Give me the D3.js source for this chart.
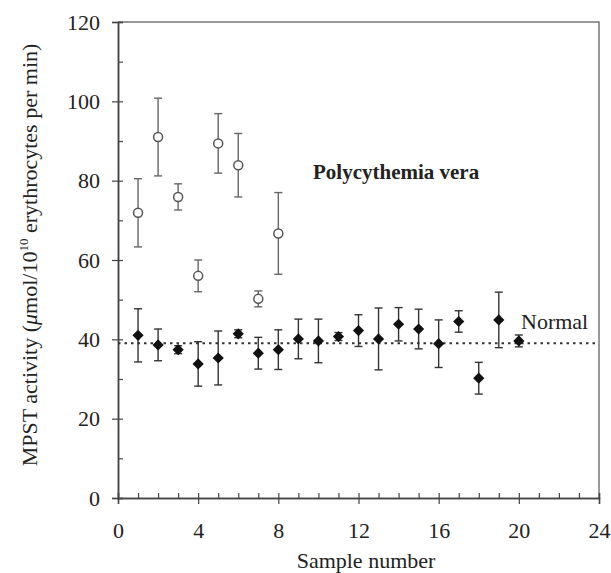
<!DOCTYPE html>
<html>
<head>
<meta charset="utf-8">
<script src="https://cdn.jsdelivr.net/npm/d3@7"></script>
<style>
  body { margin: 0; background: #fff; }
  text { font-family: "Liberation Serif", "Times New Roman", serif; fill: #222; }
</style>
</head>
<body>
<script>
// Normal samples (filled diamonds), mean and error
var normalSample = [1, 2, 3, 4, 5, 6, 7, 8, 9, 10, 11, 12, 13, 14, 15, 16, 17, 18, 19, 20];
var normalMean = [41, 38.6, 37.4, 33.8, 35.3, 41.4, 36.5, 37.4, 40.1, 39.6, 40.7, 42.2, 40.1, 43.8, 42.6, 38.9, 44.5, 30.2, 44.9, 39.6];
var normalErr = [6.7, 4, 1, 5.6, 6.8, 1, 4, 5, 5, 5.5, 1, 4, 7.8, 4.2, 5, 6, 2.7, 4, 7, 1.5];

// Polycythemia vera samples (open circles)
var pvSample = [1, 2, 3, 4, 5, 6, 7, 8];
var pvMean = [71.9, 91, 75.9, 56, 89.4, 83.9, 50.2, 66.7];
var pvErr = [8.6, 9.8, 3.3, 4, 7.5, 8, 2, 10.3];

// reference line for the normal mean
var normalLine = 39;

var xTicks = [0, 4, 8, 12, 16, 20, 24];
var yTicks = [0, 20, 40, 60, 80, 100, 120];

var W = 611, H = 573;
var margin = {left: 118, right: 599, top: 22, bottom: 498};

var svg = d3.select("body").append("svg")
    .attr("width", W)
    .attr("height", H);

var x = d3.scaleLinear().domain([0, 24]).range([margin.left, margin.right]);
var y = d3.scaleLinear().domain([0, 120]).range([margin.bottom, margin.top]);

// frame (top and right edges)
svg.append("path")
    .attr("d", "M" + x(0) + "," + y(120) + "H" + x(24) + "V" + y(0))
    .attr("fill", "none")
    .attr("stroke", "#777")
    .attr("stroke-width", 1.5);

// x axis: major ticks below, minor ticks above
svg.append("g")
    .attr("transform", "translate(0," + margin.bottom + ")")
    .call(d3.axisBottom(x).tickValues(xTicks).tickSize(6).tickPadding(18).tickFormat(d3.format("d")));
svg.append("g")
    .attr("transform", "translate(0," + margin.bottom + ")")
    .call(d3.axisTop(x).tickValues(d3.range(0, 25, 1)).tickSize(5).tickFormat(""));

// y axis: major ticks left, minor ticks right
svg.append("g")
    .attr("transform", "translate(" + margin.left + ",0)")
    .call(d3.axisLeft(y).tickValues(yTicks).tickSize(6).tickPadding(12).tickFormat(d3.format("d")));
svg.append("g")
    .attr("transform", "translate(" + margin.left + ",0)")
    .call(d3.axisRight(y).tickValues(d3.range(0, 121, 10)).tickSize(5).tickFormat(""));

svg.selectAll(".domain").attr("stroke", "#444").attr("stroke-width", 1.5);
svg.selectAll(".tick line").attr("stroke", "#444").attr("stroke-width", 1.2);
svg.selectAll(".tick text")
    .style("font-family", "'Liberation Serif', serif")
    .style("font-size", "22px")
    .attr("fill", "#222");

// dotted normal line
svg.append("line")
    .attr("x1", x(0)).attr("x2", x(24))
    .attr("y1", y(normalLine)).attr("y2", y(normalLine))
    .attr("stroke", "#333")
    .attr("stroke-width", 2)
    .attr("stroke-dasharray", "2.5,4");

// error bars helper
function errorBars(sample, mean, err, color, cls) {
  var g = svg.append("g").attr("class", cls);
  var rows = sample.map(function(s, i) { return {s: s, m: mean[i], e: err[i]}; });
  g.selectAll("line.v").data(rows).enter().append("line")
      .attr("class", "v")
      .attr("x1", function(d) { return x(d.s); })
      .attr("x2", function(d) { return x(d.s); })
      .attr("y1", function(d) { return y(d.m - d.e); })
      .attr("y2", function(d) { return y(d.m + d.e); })
      .attr("stroke", color).attr("stroke-width", 1.4);
  ["top", "bot"].forEach(function(k) {
    g.selectAll("line." + k).data(rows).enter().append("line")
        .attr("class", k)
        .attr("x1", function(d) { return x(d.s) - 4; })
        .attr("x2", function(d) { return x(d.s) + 4; })
        .attr("y1", function(d) { return y(k == "top" ? d.m + d.e : d.m - d.e); })
        .attr("y2", function(d) { return y(k == "top" ? d.m + d.e : d.m - d.e); })
        .attr("stroke", color).attr("stroke-width", 1.4);
  });
  return rows;
}

var pvRows = errorBars(pvSample, pvMean, pvErr, "#666", "pv");
svg.selectAll("circle.pv").data(pvRows).enter().append("circle")
    .attr("class", "pv")
    .attr("cx", function(d) { return x(d.s); })
    .attr("cy", function(d) { return y(d.m); })
    .attr("r", 4.5)
    .attr("fill", "#fff")
    .attr("stroke", "#555")
    .attr("stroke-width", 1.5);

var nRows = errorBars(normalSample, normalMean, normalErr, "#333", "normal");
svg.selectAll("path.nm").data(nRows).enter().append("path")
    .attr("class", "nm")
    .attr("d", d3.symbol().type(d3.symbolDiamond2).size(80))
    .attr("transform", function(d) { return "translate(" + x(d.s) + "," + y(d.m) + ")"; })
    .attr("fill", "#111");

// annotations
svg.append("text")
    .attr("x", 313).attr("y", 179)
    .style("font-size", "21px").style("font-weight", "bold")
    .text("Polycythemia vera");
svg.append("text")
    .attr("x", 521).attr("y", 329)
    .style("font-size", "22px")
    .text("Normal");

// axis titles
svg.append("text")
    .attr("x", 366).attr("y", 568)
    .attr("text-anchor", "middle")
    .style("font-size", "22px")
    .text("Sample number");

var yt = svg.append("text")
    .attr("transform", "translate(37," + 255 + ") rotate(-90)")
    .attr("text-anchor", "middle")
    .style("font-size", "22px");
yt.append("tspan").text("MPST activity (");
yt.append("tspan").style("font-style", "italic").text("\u03bc");
yt.append("tspan").text("mol/10");
yt.append("tspan").attr("dy", -9).style("font-size", "13px").text("10");
yt.append("tspan").attr("dy", 9).text(" erythrocytes per min)");
</script>
</body>
</html>
